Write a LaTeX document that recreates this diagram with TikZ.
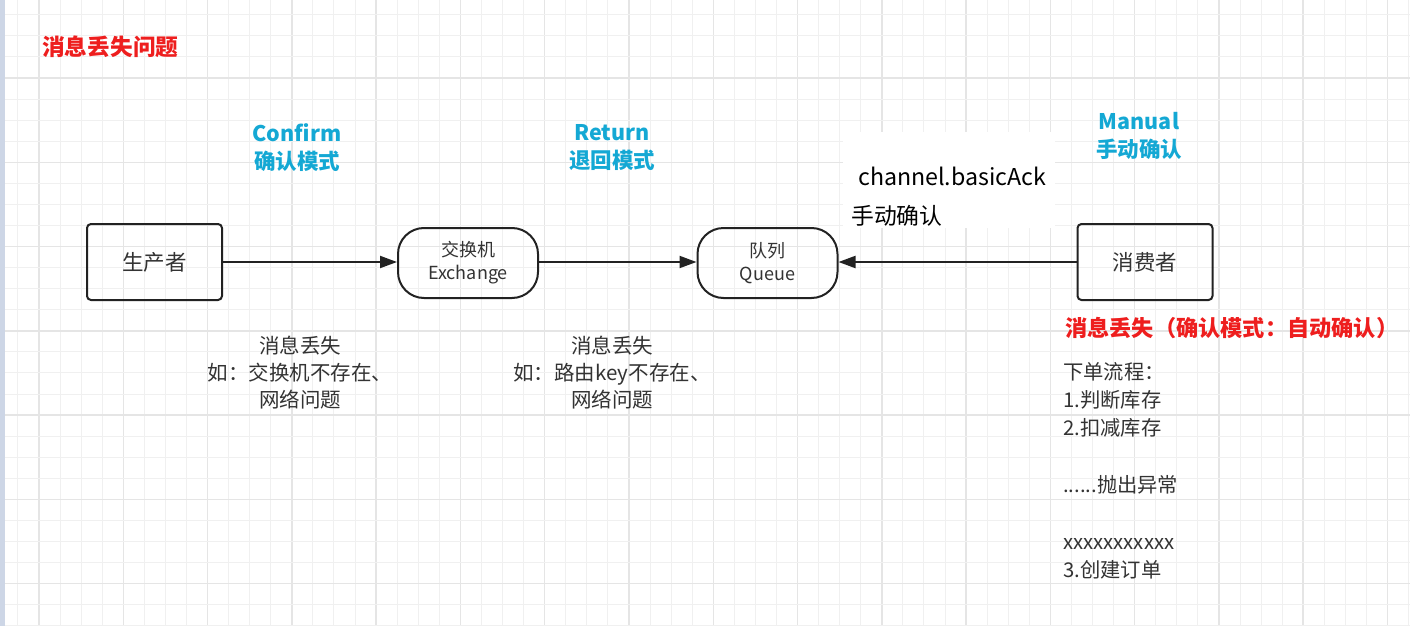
\documentclass[tikz,border=0pt]{standalone}
\usepackage{fontspec}
\setmainfont{Noto Sans CJK SC}
\usetikzlibrary{arrows.meta}
\definecolor{gridminor}{RGB}{240,240,240}
\definecolor{gridmajor}{RGB}{229,229,229}
\definecolor{leftstrip}{RGB}{205,214,230}
\definecolor{tred}{RGB}{238,30,30}
\definecolor{tcyan}{RGB}{20,168,212}
\definecolor{tgray}{RGB}{51,51,51}
\definecolor{edge}{RGB}{34,34,34}
\tikzset{
  boxnode/.style={draw=edge, line width=2pt, rounded corners=4pt, minimum width=135pt, minimum height=76pt, text=tgray, font=\fontsize{21.5}{26}\selectfont},
  pillnode/.style={draw=edge, line width=2pt, rounded corners=26pt, minimum width=140pt, minimum height=70pt, text=tgray, align=center, font=\fontsize{18}{23}\selectfont},
  conn/.style={draw=edge, line width=2pt, -{Triangle[length=17pt,width=12pt]}},
  modelabel/.style={text=tcyan, align=center, font=\bfseries\fontsize{21.5}{28}\selectfont, inner sep=0pt},
  note/.style={text=tgray, align=center, font=\fontsize{20.5}{27}\selectfont, inner sep=0pt},
}
\begin{document}
\begin{tikzpicture}[x=1pt,y=-1pt]
\useasboundingbox (0,0) rectangle (1410,626);
\fill[white] (0,0) rectangle (1410,626);
% grid
\foreach \i in {0,...,70} {
  \pgfmathsetmacro{\gx}{-3.14+21.07*\i}
  \pgfmathtruncatemacro{\m}{mod(\i,4)}
  \ifnum\m=2
    \draw[gridmajor, line width=1.5pt] (\gx,0) -- (\gx,626);
  \else
    \draw[gridminor, line width=1pt] (\gx,0) -- (\gx,626);
  \fi
}
\foreach \i in {0,...,31} {
  \pgfmathsetmacro{\gy}{-6.3+21.07*\i}
  \pgfmathtruncatemacro{\m}{mod(\i,4)}
  \ifnum\m=0
    \draw[gridmajor, line width=1.5pt] (0,\gy) -- (1410,\gy);
  \else
    \draw[gridminor, line width=1pt] (0,\gy) -- (1410,\gy);
  \fi
}
\fill[leftstrip] (0,0) rectangle (5,626);
% title
\node[anchor=west, text=tred, font=\bfseries\fontsize{22.7}{26}\selectfont, inner sep=0pt] (title) at (42,47) {消息丢失问题};
% mode labels
\node[modelabel] (confirm) at (297,148) {Confirm\\确认模式};
\node[modelabel] (return) at (612,148) {Return\\退回模式};
\node[modelabel] (manual) at (1139,136) {Manual\\手动确认};
% ack note
\fill[white] (843,132) rectangle (1055,228);
\node[anchor=west, inner sep=0pt, font=\fontsize{23.2}{26}\selectfont] (ack) at (858,176) {channel.basicAck};
\node[anchor=west, inner sep=0pt, font=\fontsize{22.8}{26}\selectfont] (ackcn) at (851,216) {手动确认};
% nodes
\node[boxnode] (prod) at (154.5,262) {生产者};
\node[pillnode] (ex) at (468,263) {交换机\\Exchange};
\node[pillnode] (queue) at (767.5,263) {队列\\Queue};
\node[boxnode] (cons) at (1145,262) {消费者};
% connectors
\draw[conn] (prod) -- (ex.west |- prod);
\draw[conn] (ex.east |- prod) -- (queue.west |- prod);
\draw[conn] (cons) -- (queue.east |- cons);
% notes
\node[note] (n1) at (300,373) {消息丢失\\如：交换机不存在、\\网络问题};
\node[note] (n2) at (612,373) {消息丢失\\如：路由key不存在、\\网络问题};
\node[anchor=west, text=tred, font=\bfseries\fontsize{22.2}{26}\selectfont, inner sep=0pt] (lost) at (1065,328) {消息丢失（确认模式：自动确认）};
\node[anchor=north west, align=left, text=tgray, font=\fontsize{20.3}{28.3}\selectfont, inner sep=0pt] (flow) at (1063,362)
  {下单流程：\\1.判断库存\\2.扣减库存\\[28.3pt]......抛出异常\\[28.3pt]xxxxxxxxxxx\\3.创建订单};
\end{tikzpicture}
\end{document}
